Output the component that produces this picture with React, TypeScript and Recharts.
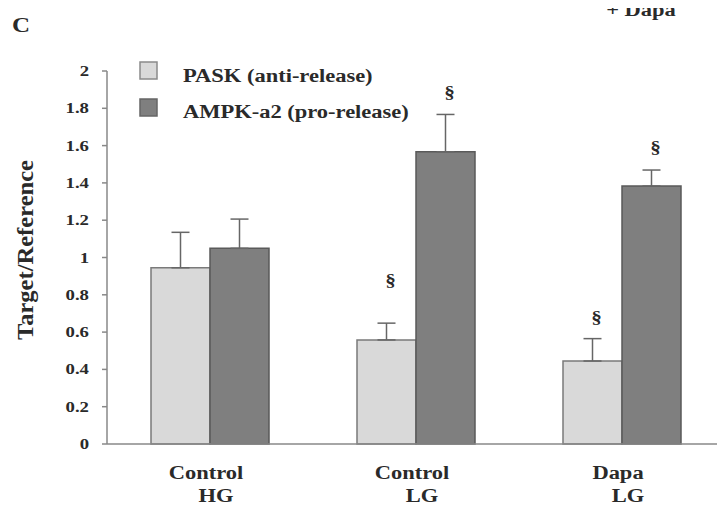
import { BarChart, Bar, XAxis, YAxis, ErrorBar, LabelList } from "recharts";

const groupTop = ["Control", "Control", "Dapa"];
const groupBottom = ["HG", "LG", "LG"];
const seriesNames = ["PASK (anti-release)", "AMPK-a2 (pro-release)"];

const pask = [0.945, 0.558, 0.445];
const paskErr = [0.19, 0.09, 0.12];
const paskSig: (number | null)[] = [null, 0.88, 0.68];

const ampk = [1.049, 1.567, 1.383];
const ampkErr = [0.157, 0.2, 0.086];
const ampkSig: (number | null)[] = [null, 1.89, 1.59];

const yTicks = [0, 0.2, 0.4, 0.6, 0.8, 1, 1.2, 1.4, 1.6, 1.8, 2];

const FONT = "'Liberation Serif', 'Times New Roman', serif";
const INK = "#2a2a2a";
const LIGHT = "#d9d9d9";
const DARK = "#7f7f7f";

const data = groupTop.map((g, i) => ({
  name: `${g} ${groupBottom[i]}`,
  pask: pask[i],
  paskErr: [0, paskErr[i]],
  ampk: ampk[i],
  ampkErr: [0, ampkErr[i]],
}));

// stretched bold serif, like the scanned figure
const Txt = ({ x, y, children, anchor = "middle", size = 18 }: any) => (
  <text
    transform={`translate(${x} ${y}) scale(1.25 1)`}
    textAnchor={anchor}
    fontFamily={FONT}
    fontWeight="bold"
    fontSize={size}
    fill={INK}
  >
    {children}
  </text>
);

const sigLabel = (values: number[], sig: (number | null)[]) => (props: any) => {
  const { x, y, width, height, index } = props;
  const s = sig[index];
  if (s == null) return null;
  const base = y + height;
  const py = base - (s * height) / values[index];
  return (
    <Txt x={x + width / 2 + 4} y={py + 6} size={17}>
      §
    </Txt>
  );
};

const XTick = ({ x, y, payload }: any) => {
  const i = payload.index;
  return (
    <g>
      <Txt x={x - 4} y={y + 27}>{groupTop[i]}</Txt>
      <Txt x={x + 6} y={y + 50}>{groupBottom[i]}</Txt>
    </g>
  );
};

const YTick = ({ x, y, payload }: any) => (
  <Txt x={x - 11} y={y + 5} anchor="end" size={15}>
    {String(payload.value)}
  </Txt>
);

export default function App() {
  return (
    <div style={{ position: "relative", width: 725, height: 512, margin: -8, background: "#fff" }}>
      <BarChart
        width={725}
        height={512}
        data={data}
        margin={{ top: 71, right: 0, left: 7, bottom: 8 }}
        barCategoryGap={44}
        barGap={0}
      >
        <XAxis
          dataKey="name"
          height={60}
          axisLine={{ stroke: "#888", strokeWidth: 1.5 }}
          tickLine={false}
          tick={<XTick />}
          interval={0}
        />
        <YAxis
          width={100}
          domain={[0, 2]}
          ticks={yTicks}
          interval={0}
          axisLine={{ stroke: "#888", strokeWidth: 1.5 }}
          tickLine={{ stroke: "#888", strokeWidth: 1.5 }}
          tickSize={5}
          tick={<YTick />}
        />
        <Bar dataKey="pask" name={seriesNames[0]} fill={LIGHT} stroke="#7a7a7a" strokeWidth={1.5} isAnimationActive={false}>
          <ErrorBar dataKey="paskErr" width={9} stroke="#666" strokeWidth={1.5} />
          <LabelList dataKey="pask" content={sigLabel(pask, paskSig)} />
        </Bar>
        <Bar dataKey="ampk" name={seriesNames[1]} fill={DARK} stroke="#5a5a5a" strokeWidth={1.5} isAnimationActive={false}>
          <ErrorBar dataKey="ampkErr" width={9} stroke="#666" strokeWidth={1.5} />
          <LabelList dataKey="ampk" content={sigLabel(ampk, ampkSig)} />
        </Bar>
      </BarChart>
      <svg width={725} height={512} style={{ position: "absolute", left: 0, top: 0, pointerEvents: "none" }}>
        <Txt x={21} y={32} size={20}>C</Txt>
        <Txt x={641} y={16} size={18}>+ Dapa</Txt>
        <text
          transform="translate(33 250) scale(1.25 1) rotate(-90)"
          textAnchor="middle"
          fontFamily={FONT}
          fontWeight="bold"
          fontSize={18}
          fill={INK}
          textLength={180}
          lengthAdjust="spacingAndGlyphs"
        >
          Target/Reference
        </text>
        {/* legend */}
        <rect x={140} y={62} width={17} height={17} fill={LIGHT} stroke="#8a8a8a" strokeWidth={1.5} />
        <Txt x={183} y={82} anchor="start">{seriesNames[0]}</Txt>
        <rect x={140} y={99} width={17} height={17} fill={DARK} stroke="#666" strokeWidth={1.5} />
        <Txt x={183} y={118} anchor="start">{seriesNames[1]}</Txt>
      </svg>
    </div>
  );
}
